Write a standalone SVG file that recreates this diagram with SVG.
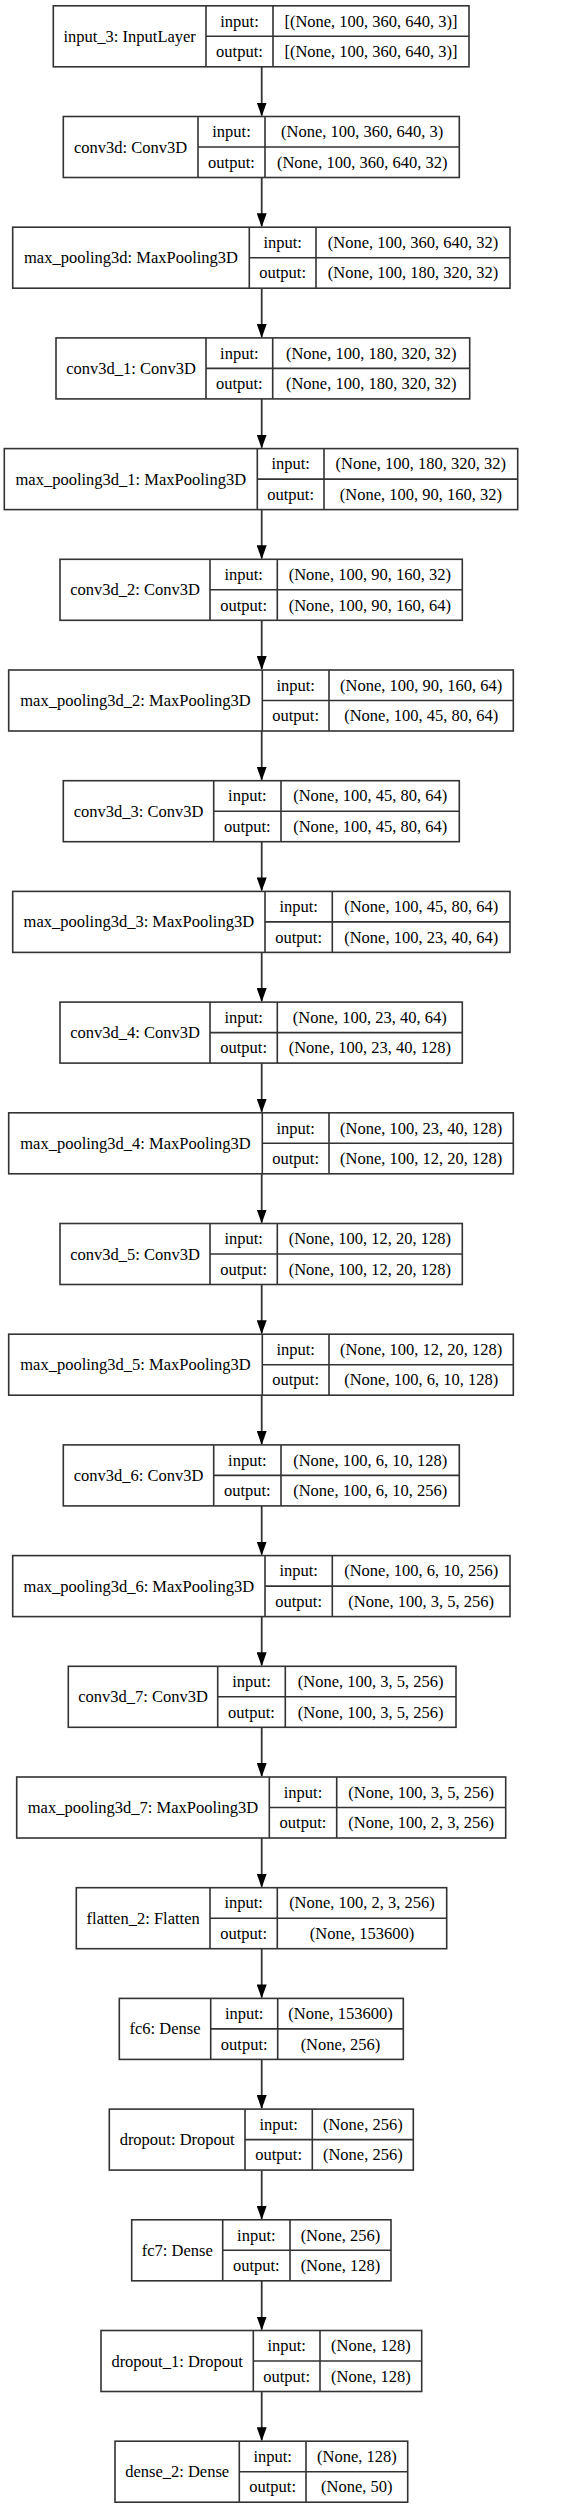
<svg xmlns="http://www.w3.org/2000/svg" width="572" height="2508" viewBox="0 0 572 2508">
<defs>
<style>
.b{fill:#fff;stroke:#333;stroke-width:1.6}
.l{stroke:#333;stroke-width:1.6;fill:none}
text{font-family:"Liberation Serif","Times New Roman",serif;font-size:16.5px;fill:#000;text-anchor:middle}
.e{stroke:#333;stroke-width:1.8;fill:none;marker-end:url(#ah)}
</style>
<marker id="ah" markerWidth="14" markerHeight="10" refX="13" refY="5" orient="auto" markerUnits="userSpaceOnUse"><path d="M0,0 L14,5 L0,10 Z" fill="#000"/></marker>
</defs>
<rect width="572" height="2508" fill="#fff"/>
<g id="connectors">
<line class="e" x1="261.7" y1="66.8" x2="261.7" y2="115.5"/>
<line class="e" x1="261.7" y1="177.5" x2="261.7" y2="226.2"/>
<line class="e" x1="261.7" y1="288.2" x2="261.7" y2="336.9"/>
<line class="e" x1="261.7" y1="398.9" x2="261.7" y2="447.6"/>
<line class="e" x1="261.7" y1="509.6" x2="261.7" y2="558.3"/>
<line class="e" x1="261.7" y1="620.3" x2="261.7" y2="669.0"/>
<line class="e" x1="261.7" y1="731.0" x2="261.7" y2="779.7"/>
<line class="e" x1="261.7" y1="841.7" x2="261.7" y2="890.4"/>
<line class="e" x1="261.7" y1="952.4" x2="261.7" y2="1001.1"/>
<line class="e" x1="261.7" y1="1063.1" x2="261.7" y2="1111.8"/>
<line class="e" x1="261.7" y1="1173.8" x2="261.7" y2="1222.5"/>
<line class="e" x1="261.7" y1="1284.5" x2="261.7" y2="1333.2"/>
<line class="e" x1="261.7" y1="1395.2" x2="261.7" y2="1443.9"/>
<line class="e" x1="261.7" y1="1505.9" x2="261.7" y2="1554.6"/>
<line class="e" x1="261.7" y1="1616.6" x2="261.7" y2="1665.3"/>
<line class="e" x1="261.7" y1="1727.3" x2="261.7" y2="1776.0"/>
<line class="e" x1="261.7" y1="1838.0" x2="261.7" y2="1886.7"/>
<line class="e" x1="261.7" y1="1948.7" x2="261.7" y2="1997.4"/>
<line class="e" x1="261.7" y1="2059.4" x2="261.7" y2="2108.1"/>
<line class="e" x1="261.7" y1="2170.1" x2="261.7" y2="2218.8"/>
<line class="e" x1="261.7" y1="2280.8" x2="261.7" y2="2329.5"/>
<line class="e" x1="261.7" y1="2391.5" x2="261.7" y2="2440.2"/>
</g>
<g id="input_3" transform="translate(0,5.8)">
<rect class="b" x="53.3" y="0" width="415.7" height="61"/>
<path class="l" d="M206,0V61M273,0V61M206,30.5H469"/>
<text x="129.65" y="36">input_3: InputLayer</text>
<text x="239.5" y="20.8">input:</text><text x="239.5" y="51.3">output:</text>
<text x="371" y="20.8">[(None, 100, 360, 640, 3)]</text><text x="371" y="51.3">[(None, 100, 360, 640, 3)]</text>
</g>
<g id="conv3d" transform="translate(0,116.5)">
<rect class="b" x="63.3" y="0" width="396" height="61"/>
<path class="l" d="M198,0V61M265,0V61M198,30.5H459.3"/>
<text x="130.65" y="36">conv3d: Conv3D</text>
<text x="231.5" y="20.8">input:</text><text x="231.5" y="51.3">output:</text>
<text x="362.15" y="20.8">(None, 100, 360, 640, 3)</text><text x="362.15" y="51.3">(None, 100, 360, 640, 32)</text>
</g>
<g id="max_pooling3d" transform="translate(0,227.2)">
<rect class="b" x="12.7" y="0" width="497.3" height="61"/>
<path class="l" d="M249.3,0V61M316,0V61M249.3,30.5H510"/>
<text x="131" y="36">max_pooling3d: MaxPooling3D</text>
<text x="282.65" y="20.8">input:</text><text x="282.65" y="51.3">output:</text>
<text x="413" y="20.8">(None, 100, 360, 640, 32)</text><text x="413" y="51.3">(None, 100, 180, 320, 32)</text>
</g>
<g id="conv3d_1" transform="translate(0,337.9)">
<rect class="b" x="56" y="0" width="413.7" height="61"/>
<path class="l" d="M206,0V61M272.7,0V61M206,30.5H469.7"/>
<text x="131" y="36">conv3d_1: Conv3D</text>
<text x="239.35" y="20.8">input:</text><text x="239.35" y="51.3">output:</text>
<text x="371.2" y="20.8">(None, 100, 180, 320, 32)</text><text x="371.2" y="51.3">(None, 100, 180, 320, 32)</text>
</g>
<g id="max_pooling3d_1" transform="translate(0,448.6)">
<rect class="b" x="4.3" y="0" width="513.4" height="61"/>
<path class="l" d="M257.3,0V61M324,0V61M257.3,30.5H517.7"/>
<text x="130.8" y="36">max_pooling3d_1: MaxPooling3D</text>
<text x="290.65" y="20.8">input:</text><text x="290.65" y="51.3">output:</text>
<text x="420.85" y="20.8">(None, 100, 180, 320, 32)</text><text x="420.85" y="51.3">(None, 100, 90, 160, 32)</text>
</g>
<g id="conv3d_2" transform="translate(0,559.3)">
<rect class="b" x="60" y="0" width="402.3" height="61"/>
<path class="l" d="M210,0V61M277.3,0V61M210,30.5H462.3"/>
<text x="135" y="36">conv3d_2: Conv3D</text>
<text x="243.65" y="20.8">input:</text><text x="243.65" y="51.3">output:</text>
<text x="369.8" y="20.8">(None, 100, 90, 160, 32)</text><text x="369.8" y="51.3">(None, 100, 90, 160, 64)</text>
</g>
<g id="max_pooling3d_2" transform="translate(0,670)">
<rect class="b" x="8.7" y="0" width="504.6" height="61"/>
<path class="l" d="M262.3,0V61M329,0V61M262.3,30.5H513.3"/>
<text x="135.5" y="36">max_pooling3d_2: MaxPooling3D</text>
<text x="295.65" y="20.8">input:</text><text x="295.65" y="51.3">output:</text>
<text x="421.15" y="20.8">(None, 100, 90, 160, 64)</text><text x="421.15" y="51.3">(None, 100, 45, 80, 64)</text>
</g>
<g id="conv3d_3" transform="translate(0,780.7)">
<rect class="b" x="63.3" y="0" width="396" height="61"/>
<path class="l" d="M213.7,0V61M281,0V61M213.7,30.5H459.3"/>
<text x="138.5" y="36">conv3d_3: Conv3D</text>
<text x="247.35" y="20.8">input:</text><text x="247.35" y="51.3">output:</text>
<text x="370.15" y="20.8">(None, 100, 45, 80, 64)</text><text x="370.15" y="51.3">(None, 100, 45, 80, 64)</text>
</g>
<g id="max_pooling3d_3" transform="translate(0,891.4)">
<rect class="b" x="12.7" y="0" width="497.3" height="61"/>
<path class="l" d="M265,0V61M332.3,0V61M265,30.5H510"/>
<text x="138.85" y="36">max_pooling3d_3: MaxPooling3D</text>
<text x="298.65" y="20.8">input:</text><text x="298.65" y="51.3">output:</text>
<text x="421.15" y="20.8">(None, 100, 45, 80, 64)</text><text x="421.15" y="51.3">(None, 100, 23, 40, 64)</text>
</g>
<g id="conv3d_4" transform="translate(0,1002.1)">
<rect class="b" x="60" y="0" width="402.3" height="61"/>
<path class="l" d="M210,0V61M277.3,0V61M210,30.5H462.3"/>
<text x="135" y="36">conv3d_4: Conv3D</text>
<text x="243.65" y="20.8">input:</text><text x="243.65" y="51.3">output:</text>
<text x="369.8" y="20.8">(None, 100, 23, 40, 64)</text><text x="369.8" y="51.3">(None, 100, 23, 40, 128)</text>
</g>
<g id="max_pooling3d_4" transform="translate(0,1112.8)">
<rect class="b" x="8.7" y="0" width="504.6" height="61"/>
<path class="l" d="M262.3,0V61M329,0V61M262.3,30.5H513.3"/>
<text x="135.5" y="36">max_pooling3d_4: MaxPooling3D</text>
<text x="295.65" y="20.8">input:</text><text x="295.65" y="51.3">output:</text>
<text x="421.15" y="20.8">(None, 100, 23, 40, 128)</text><text x="421.15" y="51.3">(None, 100, 12, 20, 128)</text>
</g>
<g id="conv3d_5" transform="translate(0,1223.5)">
<rect class="b" x="60" y="0" width="402.3" height="61"/>
<path class="l" d="M210,0V61M277.3,0V61M210,30.5H462.3"/>
<text x="135" y="36">conv3d_5: Conv3D</text>
<text x="243.65" y="20.8">input:</text><text x="243.65" y="51.3">output:</text>
<text x="369.8" y="20.8">(None, 100, 12, 20, 128)</text><text x="369.8" y="51.3">(None, 100, 12, 20, 128)</text>
</g>
<g id="max_pooling3d_5" transform="translate(0,1334.2)">
<rect class="b" x="8.7" y="0" width="504.6" height="61"/>
<path class="l" d="M262.3,0V61M329,0V61M262.3,30.5H513.3"/>
<text x="135.5" y="36">max_pooling3d_5: MaxPooling3D</text>
<text x="295.65" y="20.8">input:</text><text x="295.65" y="51.3">output:</text>
<text x="421.15" y="20.8">(None, 100, 12, 20, 128)</text><text x="421.15" y="51.3">(None, 100, 6, 10, 128)</text>
</g>
<g id="conv3d_6" transform="translate(0,1444.9)">
<rect class="b" x="63.3" y="0" width="396" height="61"/>
<path class="l" d="M213.7,0V61M281,0V61M213.7,30.5H459.3"/>
<text x="138.5" y="36">conv3d_6: Conv3D</text>
<text x="247.35" y="20.8">input:</text><text x="247.35" y="51.3">output:</text>
<text x="370.15" y="20.8">(None, 100, 6, 10, 128)</text><text x="370.15" y="51.3">(None, 100, 6, 10, 256)</text>
</g>
<g id="max_pooling3d_6" transform="translate(0,1555.6)">
<rect class="b" x="12.7" y="0" width="497.3" height="61"/>
<path class="l" d="M265,0V61M332.3,0V61M265,30.5H510"/>
<text x="138.85" y="36">max_pooling3d_6: MaxPooling3D</text>
<text x="298.65" y="20.8">input:</text><text x="298.65" y="51.3">output:</text>
<text x="421.15" y="20.8">(None, 100, 6, 10, 256)</text><text x="421.15" y="51.3">(None, 100, 3, 5, 256)</text>
</g>
<g id="conv3d_7" transform="translate(0,1666.3)">
<rect class="b" x="68.3" y="0" width="387.7" height="61"/>
<path class="l" d="M217.7,0V61M285.3,0V61M217.7,30.5H456"/>
<text x="143" y="36">conv3d_7: Conv3D</text>
<text x="251.5" y="20.8">input:</text><text x="251.5" y="51.3">output:</text>
<text x="370.65" y="20.8">(None, 100, 3, 5, 256)</text><text x="370.65" y="51.3">(None, 100, 3, 5, 256)</text>
</g>
<g id="max_pooling3d_7" transform="translate(0,1777)">
<rect class="b" x="16.7" y="0" width="489" height="61"/>
<path class="l" d="M269.3,0V61M336.7,0V61M269.3,30.5H505.7"/>
<text x="143" y="36">max_pooling3d_7: MaxPooling3D</text>
<text x="303" y="20.8">input:</text><text x="303" y="51.3">output:</text>
<text x="421.2" y="20.8">(None, 100, 3, 5, 256)</text><text x="421.2" y="51.3">(None, 100, 2, 3, 256)</text>
</g>
<g id="flatten_2" transform="translate(0,1887.7)">
<rect class="b" x="76.3" y="0" width="370.4" height="61"/>
<path class="l" d="M210,0V61M277.3,0V61M210,30.5H446.7"/>
<text x="143.15" y="36">flatten_2: Flatten</text>
<text x="243.65" y="20.8">input:</text><text x="243.65" y="51.3">output:</text>
<text x="362" y="20.8">(None, 100, 2, 3, 256)</text><text x="362" y="51.3">(None, 153600)</text>
</g>
<g id="fc6" transform="translate(0,1998.4)">
<rect class="b" x="119.3" y="0" width="284" height="61"/>
<path class="l" d="M210.7,0V61M277.7,0V61M210.7,30.5H403.3"/>
<text x="165" y="36">fc6: Dense</text>
<text x="244.2" y="20.8">input:</text><text x="244.2" y="51.3">output:</text>
<text x="340.5" y="20.8">(None, 153600)</text><text x="340.5" y="51.3">(None, 256)</text>
</g>
<g id="dropout" transform="translate(0,2109.1)">
<rect class="b" x="109.3" y="0" width="304" height="61"/>
<path class="l" d="M245,0V61M312.3,0V61M245,30.5H413.3"/>
<text x="177.15" y="36">dropout: Dropout</text>
<text x="278.65" y="20.8">input:</text><text x="278.65" y="51.3">output:</text>
<text x="362.8" y="20.8">(None, 256)</text><text x="362.8" y="51.3">(None, 256)</text>
</g>
<g id="fc7" transform="translate(0,2219.8)">
<rect class="b" x="131.7" y="0" width="259.3" height="61"/>
<path class="l" d="M222.7,0V61M290,0V61M222.7,30.5H391"/>
<text x="177.2" y="36">fc7: Dense</text>
<text x="256.35" y="20.8">input:</text><text x="256.35" y="51.3">output:</text>
<text x="340.5" y="20.8">(None, 256)</text><text x="340.5" y="51.3">(None, 128)</text>
</g>
<g id="dropout_1" transform="translate(0,2330.5)">
<rect class="b" x="101" y="0" width="320.7" height="61"/>
<path class="l" d="M253.3,0V61M320,0V61M253.3,30.5H421.7"/>
<text x="177.15" y="36">dropout_1: Dropout</text>
<text x="286.65" y="20.8">input:</text><text x="286.65" y="51.3">output:</text>
<text x="370.85" y="20.8">(None, 128)</text><text x="370.85" y="51.3">(None, 128)</text>
</g>
<g id="dense_2" transform="translate(0,2441.2)">
<rect class="b" x="115" y="0" width="292.7" height="61"/>
<path class="l" d="M239.3,0V61M306,0V61M239.3,30.5H407.7"/>
<text x="177.15" y="36">dense_2: Dense</text>
<text x="272.65" y="20.8">input:</text><text x="272.65" y="51.3">output:</text>
<text x="356.85" y="20.8">(None, 128)</text><text x="356.85" y="51.3">(None, 50)</text>
</g>
</svg>
